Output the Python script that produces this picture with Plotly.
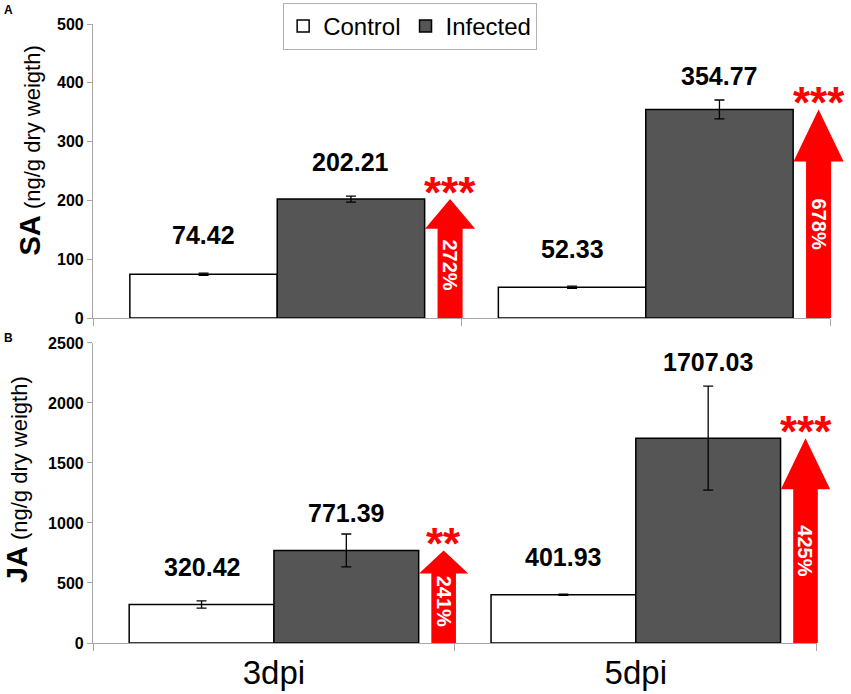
import plotly.graph_objects as go

categories = ['3dpi', '5dpi']
sa_control = [74.42, 52.33]
sa_infected = [202.21, 354.77]
sa_control_err = [2, 2]
sa_infected_err = [5, 16]
ja_control = [320.42, 401.93]
ja_infected = [771.39, 1707.03]
ja_control_err = [30, 5]
ja_infected_err = [137, 433]
sa_signif = ['***', '***']
ja_signif = ['**', '***']
sa_ticks = [0, 100, 200, 300, 400, 500]
ja_ticks = [0, 500, 1000, 1500, 2000, 2500]

FONT = 'Arial, Liberation Sans, sans-serif'
GRAY = '#a6a6a6'
RED = '#ff0000'
DARK = '#555555'

XRANGE = [-0.5, 1.5]

fig = go.Figure()

panels = [
    dict(xa='x', ya='y', dom=[0, 1], ctrl=sa_control, inf=sa_infected, ce=sa_control_err,
         ie=sa_infected_err, sig=sa_signif, legend=True, ctrl_shift=[39, 38], inf_shift=[37, 33]),
    dict(xa='x2', ya='y2', dom=[0, 0.982], ctrl=ja_control, inf=ja_infected, ce=ja_control_err,
         ie=ja_infected_err, sig=ja_signif, legend=False, ctrl_shift=[38, 38], inf_shift=[37, 76]),
]


def to_paper(xv, dom):
    return dom[0] + (xv - XRANGE[0]) / (XRANGE[1] - XRANGE[0]) * (dom[1] - dom[0])


annotations = []
shapes = []
for p in panels:
    fig.add_trace(go.Bar(x=categories, y=p['ctrl'], name='Control', xaxis=p['xa'], yaxis=p['ya'],
                         marker=dict(color='white', line=dict(color='black', width=1.5)),
                         error_y=dict(type='data', array=p['ce'], color='black', thickness=1.3, width=5),
                         showlegend=p['legend'], legendgroup='c'))
    fig.add_trace(go.Bar(x=categories, y=p['inf'], name='Infected', xaxis=p['xa'], yaxis=p['ya'],
                         marker=dict(color=DARK, line=dict(color='black', width=1.5)),
                         error_y=dict(type='data', array=p['ie'], color='black', thickness=1.3, width=5),
                         showlegend=p['legend'], legendgroup='i'))
    for i, cat in enumerate(categories):
        c, v = p['ctrl'][i], p['inf'][i]
        annotations.append(dict(x=i - 0.2, y=c, xref=p['xa'], yref=p['ya'], text=f'{c:.2f}',
                                showarrow=False, yshift=p['ctrl_shift'][i], yanchor='middle',
                                font=dict(family=FONT, size=25, color='black', weight='bold')))
        annotations.append(dict(x=i + 0.2, y=v, xref=p['xa'], yref=p['ya'], text=f'{v:.2f}',
                                showarrow=False, yshift=p['inf_shift'][i], yanchor='middle',
                                font=dict(family=FONT, size=25, color='black', weight='bold')))
        # arrow showing the fold increase (x in paper units so it is not clipped)
        tip = v
        hb = 0.75 * tip
        d = p['dom']
        xc = to_paper(i + 0.469, d)
        sl, sr = to_paper(i + 0.435, d), to_paper(i + 0.503, d)
        hl, hr = to_paper(i + 0.401, d), to_paper(i + 0.537, d)
        path = (f'M {sl},0 L {sl},{hb} L {hl},{hb} L {xc},{tip} L {hr},{hb} '
                f'L {sr},{hb} L {sr},0 Z')
        shapes.append(dict(type='path', path=path, xref='paper', yref=p['ya'],
                           fillcolor=RED, line=dict(width=0), layer='above'))
        pct = round(v / c * 100)
        annotations.append(dict(x=xc, y=0.45 * tip, xref='paper', yref=p['ya'], text=f'{pct}%',
                                showarrow=False, textangle=90, xanchor='center', yanchor='middle',
                                font=dict(family=FONT, size=20, color='white', weight='bold')))
        annotations.append(dict(x=xc, y=tip, xref='paper', yref=p['ya'], text=p['sig'][i],
                                showarrow=False, xanchor='center', yanchor='middle', yshift=7,
                                font=dict(family=FONT, size=44, color=RED, weight='bold')))

# y-axis titles
annotations.append(dict(x=-0.086, y=0.795, xref='paper', yref='paper', textangle=-90,
                        xanchor='center', yanchor='middle',
                        text="<b><span style='font-size:29px'>SA</span></b> (ng/g dry weigth)",
                        showarrow=False, font=dict(family=FONT, size=22, color='black')))
annotations.append(dict(x=-0.103, y=0.263, xref='paper', yref='paper', textangle=-90,
                        xanchor='center', yanchor='middle',
                        text="<b><span style='font-size:29px'>JA</span></b> (ng/g dry weigth)",
                        showarrow=False, font=dict(family=FONT, size=22, color='black')))
# panel letters
annotations.append(dict(x=-0.1153, y=1.0226, xref='paper', yref='paper', text='A', showarrow=False,
                        xanchor='center', yanchor='middle',
                        font=dict(family=FONT, size=12, color='black', weight='bold')))
annotations.append(dict(x=-0.1153, y=0.4927, xref='paper', yref='paper', text='B', showarrow=False,
                        xanchor='center', yanchor='middle',
                        font=dict(family=FONT, size=12, color='black', weight='bold')))

xcommon = dict(type='category', categoryorder='array', categoryarray=categories,
               range=XRANGE, tickson='boundaries', ticks='outside', ticklen=7,
               tickcolor=GRAY, showline=True, linecolor=GRAY, linewidth=1.2,
               showgrid=False, zeroline=False, automargin=False)
ycommon = dict(showline=True, linecolor=GRAY, linewidth=1.2, ticks='outside', ticklen=5,
               tickcolor=GRAY, showgrid=False, zeroline=False, automargin=False,
               tickfont=dict(family=FONT, size=16, color='black', weight='bold'))

fig.update_layout(
    width=851, height=694,
    margin=dict(l=93, r=21, t=24, b=51, autoexpand=False),
    paper_bgcolor='white', plot_bgcolor='white',
    barmode='group', bargap=0.2, bargroupgap=0,
    xaxis=dict(**xcommon, anchor='y', domain=[0, 1], showticklabels=False),
    yaxis=dict(**ycommon, anchor='x', domain=[0.525, 1], range=[0, 500], tickvals=sa_ticks),
    xaxis2=dict(**xcommon, anchor='y2', domain=[0, 0.982], showticklabels=True,
                tickfont=dict(family=FONT, size=33, color='black')),
    yaxis2=dict(**ycommon, anchor='x2', domain=[0, 0.4847], range=[0, 2500], tickvals=ja_ticks),
    legend=dict(orientation='h', x=0.258, y=1.034, xanchor='left', yanchor='top',
                bordercolor='#b0b0b0', borderwidth=1, bgcolor='white',
                font=dict(family=FONT, size=24, color='black'), itemwidth=30),
    annotations=annotations, shapes=shapes,
)

fig.write_html('out.html', post_script="document.body.style.margin='0px';",
               config={'displayModeBar': False})
